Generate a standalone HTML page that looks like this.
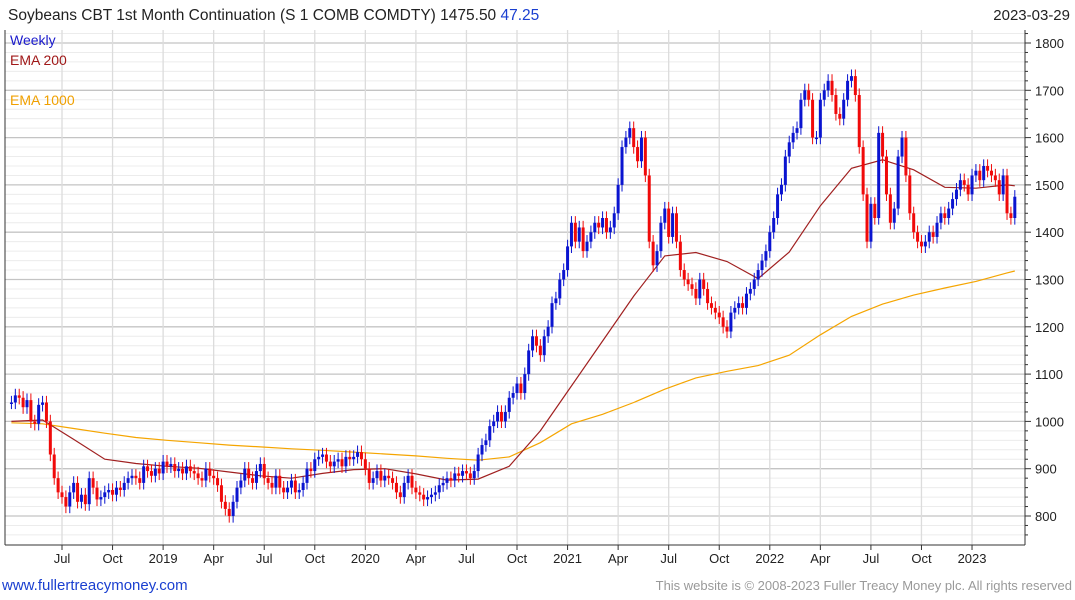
<!DOCTYPE html>
<html><head><meta charset="utf-8"><style>
body{margin:0;background:#fff;font-family:"Liberation Sans",sans-serif;}
svg{display:block}
</style></head><body>
<svg id="chart" width="1075" height="600">
<text x="8" y="20" font-size="15.5" fill="#222">Soybeans CBT 1st Month Continuation (S 1 COMB COMDTY) 1475.50 <tspan fill="#1a3fd0">47.25</tspan></text>
<text x="1070" y="20" font-size="15" fill="#222" text-anchor="end">2023-03-29</text>
<g id="grid"></g>
<g id="emas"></g>
<g id="candles"></g>
<g id="axes"></g>
<text x="10" y="45" font-size="14" fill="#1a1acc">Weekly</text>
<text x="10" y="65" font-size="14" fill="#a01818">EMA 200</text>
<text x="10" y="105" font-size="14" fill="#f0a000">EMA 1000</text>
<text x="2" y="590" font-size="15" fill="#1a3fd0">www.fullertreacymoney.com</text>
<text x="1072" y="590" font-size="13" fill="#999" text-anchor="end">This website is © 2008-2023 Fuller Treacy Money plc. All rights reserved</text>
</svg>
<script>
const closes = [
1040,1055,1050,1030,1045,1000,995,1035,1040,1000,930,880,850,
840,820,850,870,830,845,825,880,860,835,840,850,855,
845,860,855,870,880,885,880,870,905,895,885,900,890,
915,905,910,895,900,890,905,895,890,880,875,900,885,
880,865,830,815,800,830,860,875,900,880,870,895,910,
880,870,860,885,860,850,860,875,850,855,870,900,895,
920,925,930,915,905,915,920,905,925,920,925,935,920,
900,870,880,895,875,885,880,870,850,840,870,885,860,
850,845,835,840,845,850,865,870,880,875,890,885,895,
890,880,895,930,950,960,990,1000,1020,1000,1020,1050,1060,
1080,1060,1100,1150,1180,1160,1140,1180,1200,1250,1260,1300,1320,
1370,1420,1380,1410,1360,1380,1400,1420,1410,1430,1400,1410,1440,
1500,1580,1600,1620,1580,1550,1600,1520,1380,1330,1360,1420,1450,
1390,1440,1380,1320,1300,1290,1280,1260,1300,1280,1250,1240,1230,
1220,1200,1190,1230,1240,1250,1240,1270,1280,1300,1320,1340,1360,
1400,1430,1480,1500,1560,1590,1610,1620,1680,1700,1680,1600,1600,
1680,1700,1720,1690,1650,1640,1680,1720,1730,1690,1580,1480,1380,
1460,1430,1610,1560,1480,1420,1450,1560,1600,1520,1440,1400,1380,
1370,1380,1400,1390,1420,1440,1430,1450,1470,1490,1510,1500,1480,
1520,1530,1510,1540,1530,1520,1510,1480,1520,1440,1430,1475];
const emaStep = 8;
const ema200 = [1000,1003,962,920,911,905,901,893,885,880,890,898,900,889,876,878,905,980,1075,1170,1265,1350,1357,1338,1302,1358,1456,1535,1553,1532,1495,1493,1500,1498];
const ema1000 = [997,995,985,975,966,960,955,950,946,942,939,935,931,927,922,918,925,955,995,1015,1040,1068,1092,1106,1118,1140,1183,1222,1248,1267,1282,1296,1314,1318];
const yTicks = [800,900,1000,1100,1200,1300,1400,1500,1600,1700,1800];
const xTickLabels = ["Jul","Oct","2019","Apr","Jul","Oct","2020","Apr","Jul","Oct","2021","Apr","Jul","Oct","2022","Apr","Jul","Oct","2023"];
const xTickWeeks = [13,26,39,52,65,78,91,104,117,130,143,156,169,182,195,208,221,234,247];

const NS="http://www.w3.org/2000/svg";
const xs = i => 62 + (i-13)*3.889;
const ys = v => 516 - (v-800)*0.473;
function mk(tag, attrs, parent){const e=document.createElementNS(NS,tag);for(const k in attrs)e.setAttribute(k,attrs[k]);parent.appendChild(e);return e;}
const gridG=document.getElementById('grid'), axesG=document.getElementById('axes'), candleG=document.getElementById('candles'), emaG=document.getElementById('emas');
const plotTop=30, plotBot=545, plotLeft=5, plotRight=1025;
for(let v=760; v<=1820; v+=20){const y=ys(v); if(y<plotTop||y>plotBot) continue;
  const l=mk('line',{x1:plotLeft,x2:plotRight,y1:y,y2:y,stroke:(v%100===0)?'#c4c4c4':'#ececec','stroke-width':(v%100===0)?1.3:1},gridG);
  
  
}
xTickWeeks.forEach((w,k)=>{const x=xs(w);
  const l=mk('line',{x1:x,x2:x,y1:plotTop,y2:plotBot,stroke:'#dcdcdc','stroke-width':1.3},gridG);
  
  
  const t=mk('text',{x:x,y:563,'font-size':13,fill:'#222','text-anchor':'middle'},axesG);
  t.textContent=xTickLabels[k];
  
  
  mk('line',{x1:x,x2:x,y1:plotBot,y2:plotBot+5,stroke:'#333'},axesG);
});
yTicks.forEach(v=>{const y=ys(v);
  const t=mk('text',{x:1035,y:y+5,'font-size':13,fill:'#222'},axesG);
  t.textContent=v;
  
  
});
for(let v=760; v<=1820; v+=20){const y=ys(v); if(y<plotTop||y>plotBot) continue; mk('line',{x1:plotRight,x2:plotRight+(v%100===0?6:3),y1:y,y2:y,stroke:'#333'},axesG);}
mk('line',{x1:plotRight,x2:plotRight,y1:plotTop,y2:plotBot,stroke:'#333'},axesG);
mk('line',{x1:plotLeft,x2:plotRight,y1:plotBot,y2:plotBot,stroke:'#333'},axesG);
mk('line',{x1:plotLeft,x2:plotLeft,y1:plotTop,y2:plotBot,stroke:'#333'},axesG);

function emaLine(arr,color,name){
  const pts=arr.map((v,k)=>xs(Math.min(k*emaStep,closes.length-1)).toFixed(1)+','+ys(v).toFixed(1)).join(' ');
  const p=mk('polyline',{points:pts,fill:'none',stroke:color,'stroke-width':1.2},emaG);
  
  
}
emaLine(ema1000,'#f5a500','ema-1000-line');
emaLine(ema200,'#a02020','ema-200-line');

closes.forEach((c,i)=>{
  const o = i>0 ? closes[i-1] : c;
  const up = c>=o, col = up ? '#0a14d0' : '#f00a0a';
  const x=xs(i), hi=Math.max(o,c)+14, lo=Math.min(o,c)-14;
  const g=mk('g',{},candleG);
  
  
  mk('line',{x1:x,x2:x,y1:ys(hi),y2:ys(lo),stroke:col,'stroke-width':1},g);
  const yt=ys(Math.max(o,c)), h=Math.max(1.5,ys(Math.min(o,c))-yt);
  mk('rect',{x:x-1.5,y:yt,width:3,height:h,fill:col},g);
});
</script>
</body></html>
